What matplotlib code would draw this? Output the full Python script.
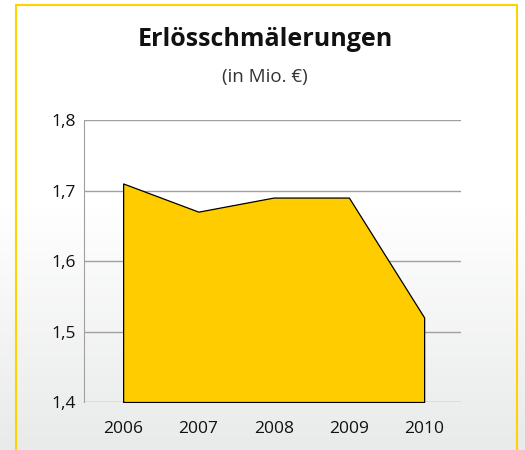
import numpy as np
import matplotlib.pyplot as plt
from matplotlib.colors import LinearSegmentedColormap
from matplotlib.patches import Rectangle

# data
years = ["2006", "2007", "2008", "2009", "2010"]
values = [1.71, 1.67, 1.69, 1.69, 1.52]
yticks = [1.4, 1.5, 1.6, 1.7, 1.8]
ytick_labels = ["1,4", "1,5", "1,6", "1,7", "1,8"]

plt.rcParams["font.family"] = ["Open Sans", "DejaVu Sans"]

fig = plt.figure(figsize=(5.25, 4.5), dpi=100)

# background: white fading to light grey towards the bottom
bg = fig.add_axes([0, 0, 1, 1], zorder=-10)
grad = np.concatenate([np.ones(45), np.linspace(1, 0, 55)])
grad = np.tile(grad[::-1][:, None], (1, 2))
bg.imshow(grad, cmap=LinearSegmentedColormap.from_list("bg", ["#e9eaea", "#ffffff"]),
          aspect="auto", extent=[0, 1, 0, 1], origin="lower")
bg.set_xlim(0, 1)
bg.set_ylim(0, 1)
bg.axis("off")

# yellow frame
fig.patches.append(Rectangle((16 / 525, -0.05), 501 / 525, 1 - 5 / 450 + 0.05,
                             transform=fig.transFigure, fill=False,
                             edgecolor="#ffd200", linewidth=1.5))

fig.text(0.505, 1 - 40 / 450, "Erlösschmälerungen", ha="center", va="center",
         fontsize=18, fontweight="bold", color="#111111")
fig.text(0.505, 1 - 77 / 450, "(in Mio. €)", ha="center", va="center",
         fontsize=13.5, color="#333333")

ax = fig.add_axes([84 / 525, 1 - 402 / 450, 377 / 525, 282 / 450])
ax.patch.set_alpha(0)
x = np.arange(len(years))
ax.fill_between(x, 1.4, values, facecolor="#ffcc00", edgecolor="black",
                linewidth=0.9, zorder=3)
ax.set_xlim(-0.52, 4.49)
ax.set_ylim(1.4, 1.8)
ax.set_yticks(yticks)
ax.set_yticklabels(ytick_labels)
ax.set_xticks(x)
ax.set_xticklabels(years)
ax.grid(axis="y", color="#a0a0a0", linewidth=1)
ax.set_axisbelow(True)
for s in ["top", "right", "bottom"]:
    ax.spines[s].set_visible(False)
ax.spines["left"].set_color("#a0a0a0")
ax.tick_params(length=0, labelsize=12.5, colors="#111111")
ax.tick_params(axis="y", pad=6)
ax.tick_params(axis="x", pad=14)

fig.savefig("out.png", dpi=100)
